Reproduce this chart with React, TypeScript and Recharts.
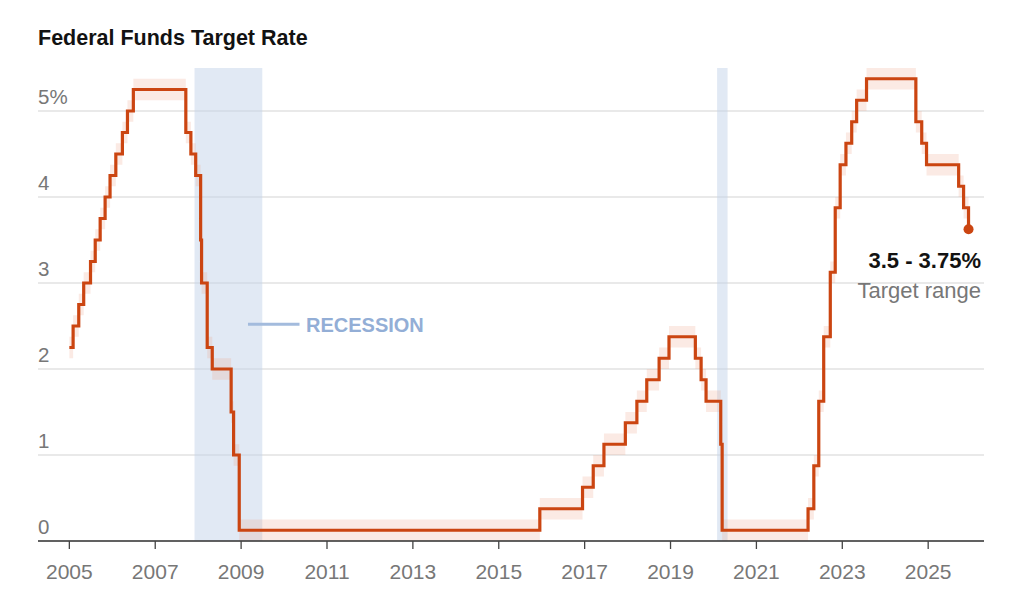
import React from "react"
import {
  ComposedChart,
  Area,
  Line,
  XAxis,
  YAxis,
  CartesianGrid,
  ReferenceArea,
  ReferenceLine,
  ReferenceDot,
} from "recharts"

// Target range bounds at each change (pre-Dec 2008 single targets shown as ±0.125)
const changeDates = [
  "2005-01-01", "2005-02-02", "2005-03-22", "2005-05-03", "2005-06-30", "2005-08-09",
  "2005-09-20", "2005-11-01", "2005-12-13", "2006-01-31", "2006-03-28", "2006-05-10",
  "2006-06-29", "2007-09-18", "2007-10-31", "2007-12-11", "2008-01-22", "2008-01-30",
  "2008-03-18", "2008-04-30", "2008-10-08", "2008-10-29", "2008-12-16", "2015-12-16",
  "2016-12-14", "2017-03-15", "2017-06-14", "2017-12-13", "2018-03-21", "2018-06-13",
  "2018-09-26", "2018-12-19", "2019-07-31", "2019-09-18", "2019-10-30", "2020-03-03",
  "2020-03-15", "2022-03-16", "2022-05-04", "2022-06-15", "2022-07-27", "2022-09-21",
  "2022-11-02", "2022-12-14", "2023-02-01", "2023-03-22", "2023-05-03", "2023-07-26",
  "2024-09-18", "2024-11-07", "2024-12-18", "2025-09-17", "2025-10-29", "2025-12-10",
]

const lowerBound = [
  2.125, 2.375, 2.625, 2.875, 3.125, 3.375,
  3.625, 3.875, 4.125, 4.375, 4.625, 4.875,
  5.125, 4.625, 4.375, 4.125, 3.375, 2.875,
  2.125, 1.875, 1.375, 0.875, 0, 0.25,
  0.5, 0.75, 1, 1.25, 1.5, 1.75,
  2, 2.25, 2, 1.75, 1.5, 1,
  0, 0.25, 0.75, 1.5, 2.25, 3,
  3.75, 4.25, 4.5, 4.75, 5, 5.25,
  4.75, 4.5, 4.25, 4, 3.75, 3.5,
]

const upperBound = [
  2.375, 2.625, 2.875, 3.125, 3.375, 3.625,
  3.875, 4.125, 4.375, 4.625, 4.875, 5.125,
  5.375, 4.875, 4.625, 4.375, 3.625, 3.125,
  2.375, 2.125, 1.625, 1.125, 0.25, 0.5,
  0.75, 1, 1.25, 1.5, 1.75, 2,
  2.25, 2.5, 2.25, 2, 1.75, 1.25,
  0.25, 0.5, 1, 1.75, 2.5, 3.25,
  4, 4.5, 4.75, 5, 5.25, 5.5,
  5, 4.75, 4.5, 4.25, 4, 3.75,
]

const recessions = [
  { start: "2007-12-01", end: "2009-06-30" },
  { start: "2020-02-01", end: "2020-04-30" },
]

const yearTicks = [2005, 2007, 2009, 2011, 2013, 2015, 2017, 2019, 2021, 2023, 2025]
const rateTicks = [0, 1, 2, 3, 4, 5]

const toYear = (s: string) => {
  const d = new Date(s + "T00:00:00Z")
  const y = d.getUTCFullYear()
  const start = Date.UTC(y, 0, 1)
  const next = Date.UTC(y + 1, 0, 1)
  return y + (d.getTime() - start) / (next - start)
}

const data = changeDates.map((date, i) => ({
  t: toYear(date),
  band: [lowerBound[i], upperBound[i]],
  mid: (lowerBound[i] + upperBound[i]) / 2,
}))

const last = data[data.length - 1]

const FONT = "'Liberation Sans', Arial, Helvetica, sans-serif"
const LINE = "#cb4511"
const PLOT_LEFT = 38

const XTick = (props: any) => {
  const { x, y, payload } = props
  return (
    <text x={x} y={y + 28} textAnchor="middle" fontFamily={FONT} fontSize={21} fill="#777">
      {payload.value}
    </text>
  )
}

const YTick = (props: any) => {
  const { y, payload } = props
  return (
    <text x={PLOT_LEFT} y={y - 7} textAnchor="start" fontFamily={FONT} fontSize={20.5} fill="#777">
      {payload.value === 5 ? "5%" : payload.value}
    </text>
  )
}

export default function App() {
  return (
    <div style={{ position: "absolute", left: 0, top: 0, width: 1024, height: 600, background: "#fff" }}>
      <ComposedChart
        width={1024}
        height={600}
        data={data}
        margin={{ top: 68, right: 40, bottom: 29, left: PLOT_LEFT }}
      >
        <CartesianGrid
          vertical={false}
          horizontalValues={rateTicks}
          stroke="#e2e2e2"
          strokeWidth={1.3}
        />
        {recessions.map((r) => (
          <ReferenceArea
            key={r.start}
            x1={toYear(r.start)}
            x2={toYear(r.end)}
            y1={0}
            y2={5.5}
            fill="#c3d3ea"
            fillOpacity={0.5}
            stroke="none"
          />
        ))}
        <XAxis
          dataKey="t"
          type="number"
          domain={[2004.27, 2026.3]}
          allowDataOverflow
          ticks={yearTicks}
          tick={<XTick />}
          tickSize={8}
          tickMargin={2}
          height={30}
          axisLine={{ stroke: "#333", strokeWidth: 1.6 }}
          tickLine={{ stroke: "#444", strokeWidth: 1.3 }}
        />
        <YAxis
          type="number"
          domain={[0, 5.5]}
          ticks={rateTicks}
          tick={<YTick />}
          axisLine={false}
          tickLine={false}
          mirror
          width={40}
        />
        <Area
          type="stepAfter"
          dataKey="band"
          stroke="none"
          fill="#ee9f86"
          fillOpacity={0.22}
          isAnimationActive={false}
        />
        <Line
          type="stepAfter"
          dataKey="mid"
          stroke={LINE}
          strokeWidth={3.2}
          dot={false}
          isAnimationActive={false}
        />
        <ReferenceLine
          segment={[
            { x: 2009.16, y: 2.52 },
            { x: 2010.36, y: 2.52 },
          ]}
          stroke="#a3bbdd"
          strokeWidth={3}
        />
        <ReferenceDot x={last.t} y={last.mid} r={5} fill={LINE} stroke="none" />
      </ComposedChart>
      <svg
        width={1024}
        height={600}
        style={{ position: "absolute", left: 0, top: 0, pointerEvents: "none" }}
      >
        <text x={38} y={45} fontFamily={FONT} fontSize={21.5} fontWeight="bold" fill="#121212">
          Federal Funds Target Rate
        </text>
        <text x={306} y={332} fontFamily={FONT} fontSize={20} fontWeight="bold" fill="#93aed6">
          RECESSION
        </text>
        <text x={981} y={268} textAnchor="end" fontFamily={FONT} fontSize={22} fontWeight="bold" fill="#121212">
          3.5 - 3.75%
        </text>
        <text x={981} y={298} textAnchor="end" fontFamily={FONT} fontSize={22} fill="#777">
          Target range
        </text>
      </svg>
    </div>
  )
}
